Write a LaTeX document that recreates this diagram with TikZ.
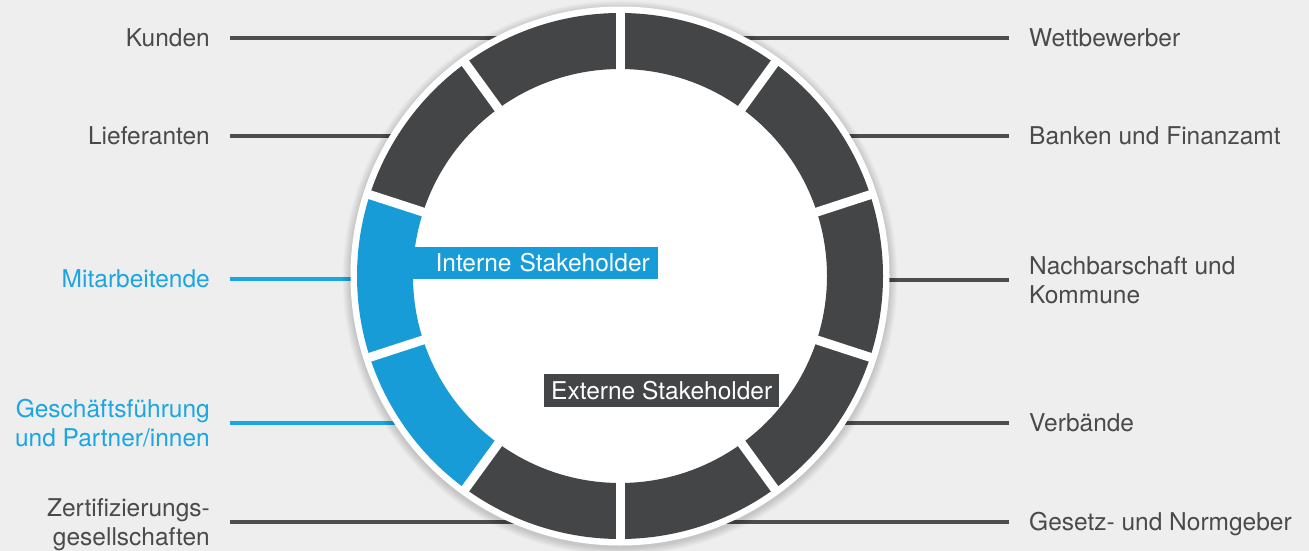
\documentclass[tikz,border=0pt]{standalone}
\usepackage{fontspec}
\setmainfont{TeX Gyre Heros}
\definecolor{bg}{RGB}{238,238,238}
\definecolor{ink}{RGB}{74,74,74}
\definecolor{rule}{RGB}{77,77,77}
\definecolor{seg}{RGB}{68,69,71}
\definecolor{segblue}{RGB}{23,156,216}
\definecolor{txtblue}{RGB}{27,166,226}
\begin{document}
\begin{tikzpicture}[x=1pt,y=-1pt,
  lab/.style={font=\fontsize{24.5}{29}\selectfont, text=ink, inner xsep=20pt,
    inner ysep=0pt, text height=17.6pt, text depth=0pt},
  labL/.style={lab, anchor=east, align=right},
  labR/.style={lab, anchor=west, align=left},
  two/.style={text height=46.6pt, text depth=0pt},
  blue/.style={text=txtblue},
  lnk/.style={draw=rule, line width=3.6pt},
  lnkblue/.style={draw=txtblue, line width=3.6pt},
  tag/.style={font=\fontsize{24.5}{29}\selectfont, text=white, inner ysep=0pt,
    text height=17.6pt, text depth=0pt},
]
\useasboundingbox (0,0) rectangle (1309,551);
\fill[bg] (0,0) rectangle (1309,551);

\coordinate (hub) at (620,276);

% labels, left side
\node[labL] (kunden) at (230,38) {Kunden};
\node[labL] (liefer) at (230,136) {Lieferanten};
\node[labL, blue] (mitarb) at (230,279) {Mitarbeitende};
\node[labL, blue, two] (gf) at (230,423) {Geschäftsführung\\und Partner/innen};
\node[labL, two] (zert) at (230,522) {Zertifizierungs-\\gesellschaften};

% labels, right side
\node[labR] (wett) at (1009,38) {Wettbewerber};
\node[labR] (banken) at (1009,136) {Banken und Finanzamt};
\node[labR, two] (nachbar) at (1009,280) {Nachbarschaft und\\Kommune};
\node[labR] (verb) at (1009,423) {Verbände};
\node[labR] (gesetz) at (1009,522) {Gesetz- und Normgeber};

% connectors run in under the ring
\draw[lnk] (kunden.east) -- (kunden.east -| hub);
\draw[lnk] (liefer.east) -- (liefer.east -| hub);
\draw[lnkblue] (mitarb.east) -- (mitarb.east -| hub);
\draw[lnkblue] (gf.east) -- (gf.east -| hub);
\draw[lnk] (zert.east) -- (zert.east -| hub);
\draw[lnk] (wett.west) -- (wett.west -| hub);
\draw[lnk] (banken.west) -- (banken.west -| hub);
\draw[lnk] (nachbar.west) -- (nachbar.west -| hub);
\draw[lnk] (verb.west) -- (verb.west -| hub);
\draw[lnk] (gesetz.west) -- (gesetz.west -| hub);

% ring
\begin{scope}[shift={(hub)}]
  \foreach \i in {1,...,10}
    \fill[black, opacity=0.014] (0,2) circle ({269.5+0.8*\i});
  \fill[white] (0,0) circle (269.5);
  \foreach \k in {0,...,9} {
    \pgfmathsetmacro{\a}{90+36*\k}
    \pgfmathsetmacro{\b}{126+36*\k}
    \ifnum\k=1 \def\c{segblue}\else\ifnum\k=2 \def\c{segblue}\else\def\c{seg}\fi\fi
    \fill[\c] (\a:263) arc[start angle=\a, end angle=\b, radius=263]
      -- (\b:207) arc[start angle=\b, end angle=\a, radius=207] -- cycle;
  }
  \foreach \k in {0,...,9}
    \draw[white, line width=9pt] ({90+36*\k}:200) -- ({90+36*\k}:266);
\end{scope}

% group tags
\node[tag, fill=segblue, anchor=east, inner xsep=8pt, minimum height=32pt,
  text width=230pt, align=right] (intern) at (658,263) {Interne Stakeholder};
\node[tag, fill=seg, anchor=west, inner xsep=7pt, minimum height=33pt]
  (extern) at (544,390.5) {Externe Stakeholder};
\end{tikzpicture}
\end{document}
